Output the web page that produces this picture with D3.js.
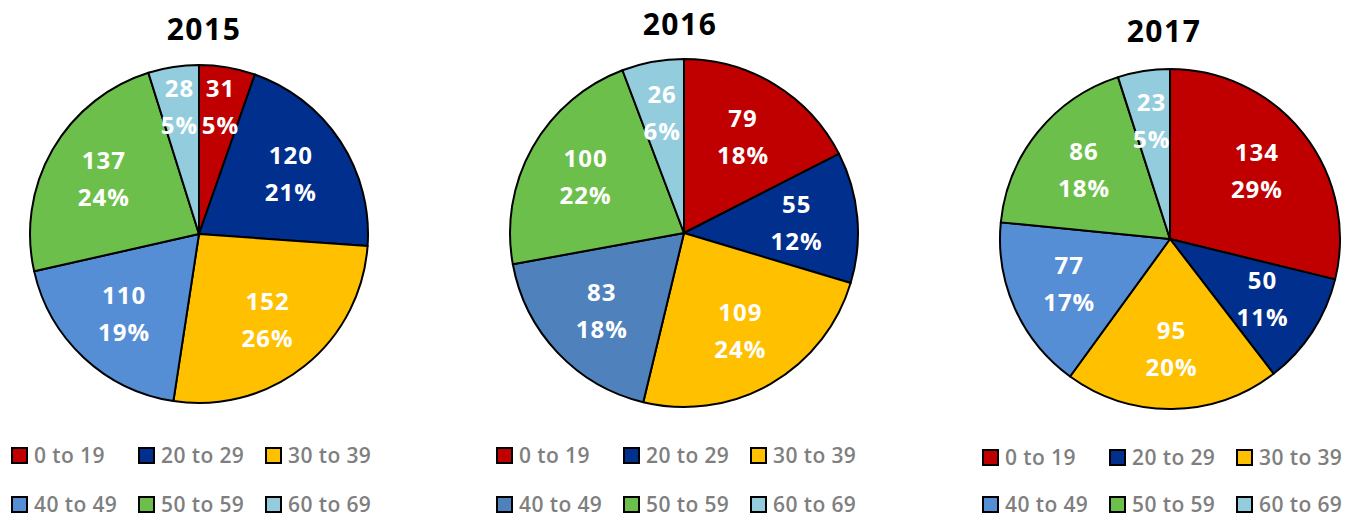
<!DOCTYPE html>
<html>
<head>
<meta charset="utf-8">
<script src="https://cdn.jsdelivr.net/npm/d3@7"></script>
<style>
  body { margin: 0; background: #fff; }
  svg { display: block; }
</style>
</head>
<body>
<div id="wrapper"></div>
<script>
// data
const years = ["2015", "2016", "2017"]
const categories = ["0 to 19", "20 to 29", "30 to 39", "40 to 49", "50 to 59", "60 to 69"]
const values2015 = [31, 120, 152, 110, 137, 28]
const values2016 = [79, 55, 109, 83, 100, 26]
const values2017 = [134, 50, 95, 77, 86, 23]
// percentage labels as printed on the chart
const pct2015 = ["5%", "21%", "26%", "19%", "24%", "5%"]
const pct2016 = ["18%", "12%", "24%", "18%", "22%", "6%"]
const pct2017 = ["29%", "11%", "20%", "17%", "18%", "5%"]
const colors2015 = ["#c00000", "#002f8e", "#ffc000", "#558ed5", "#6dbf4b", "#93cddd"]
const colors2016 = ["#c00000", "#002f8e", "#ffc000", "#4f81bd", "#6dbf4b", "#93cddd"]
const colors2017 = ["#c00000", "#002f8e", "#ffc000", "#558ed5", "#6dbf4b", "#93cddd"]

const seriesValues = [values2015, values2016, values2017]
const seriesPct = [pct2015, pct2016, pct2017]
const seriesColors = [colors2015, colors2016, colors2017]

function drawPies() {

  let dimensions = {
    width: 1364,
    height: 519,
  }

  // layout per pie: center, radius, title and legend placement
  const layouts = [
    { cx: 199, cy: 234, r: 169, titleX: 204, titleY: 40, legendY: 456, rowHeight: 49, smallK: 0.76 },
    { cx: 684, cy: 233, r: 174, titleX: 680, titleY: 35, legendY: 456, rowHeight: 49, smallK: 0.7 },
    { cx: 1170, cy: 239, r: 170, titleX: 1164, titleY: 42, legendY: 458, rowHeight: 47, smallK: 0.7 },
  ]

  const wrapper = d3.select("#wrapper")
    .append("svg")
      .attr("width", dimensions.width)
      .attr("height", dimensions.height)

  const pie = d3.pie()
    .sort(null)
    .value(d => d.value)

  years.forEach((year, i) => {
    const lay = layouts[i]
    const values = seriesValues[i]
    const pcts = seriesPct[i]
    const colors = seriesColors[i]
    const total = d3.sum(values)
    const data = categories.map((c, j) => ({ category: c, value: values[j], pct: pcts[j] }))

    const color = d3.scaleOrdinal()
      .domain(categories)
      .range(colors)

    const bounds = wrapper.append("g")
      .attr("transform", `translate(${lay.cx}, ${lay.cy})`)

    const arc = d3.arc()
      .innerRadius(0)
      .outerRadius(lay.r)

    const arcs = pie(data)

    bounds.selectAll("path")
      .data(arcs)
      .join("path")
        .attr("d", arc)
        .attr("fill", d => color(d.data.category))
        .attr("stroke", "#000")
        .attr("stroke-width", 2)
        .attr("stroke-linejoin", "round")

    // labels: small slices pushed out a bit, like Excel's best fit
    const labels = bounds.selectAll("g.label")
      .data(arcs)
      .join("g")
        .attr("class", "label")
        .attr("transform", d => {
          const share = d.data.value / total
          const k = share < 0.065 ? lay.smallK : 0.65
          const a = (d.startAngle + d.endAngle) / 2
          return `translate(${Math.sin(a) * lay.r * k}, ${-Math.cos(a) * lay.r * k})`
        })

    labels.append("text")
      .attr("y", -10)
      .attr("text-anchor", "middle")
      .attr("font-family", "'Open Sans', sans-serif")
      .attr("font-weight", 700)
      .attr("letter-spacing", 1)
      .style("font-size", "24px")
      .attr("fill", "#fff")
      .text(d => d.data.value)

    labels.append("text")
      .attr("y", 27)
      .attr("text-anchor", "middle")
      .attr("font-family", "'Open Sans', sans-serif")
      .attr("font-weight", 700)
      .attr("letter-spacing", 1)
      .style("font-size", "24px")
      .attr("fill", "#fff")
      .text(d => d.data.pct)

    // title
    wrapper.append("text")
      .attr("x", lay.titleX)
      .attr("y", lay.titleY)
      .attr("text-anchor", "middle")
      .attr("font-family", "'Open Sans', sans-serif")
      .attr("font-weight", 700)
      .attr("letter-spacing", 1.5)
      .style("font-size", "30px")
      .attr("fill", "#000")
      .text(year)

    // legend, 3 columns x 2 rows
    const legendLeft = lay.cx - 187
    const colWidth = 127

    const items = wrapper.append("g")
      .selectAll("g")
      .data(categories)
      .join("g")
        .attr("transform", (d, j) => `translate(${legendLeft + (j % 3) * colWidth}, ${lay.legendY + Math.floor(j / 3) * lay.rowHeight})`)

    items.append("rect")
      .attr("x", 0)
      .attr("y", -8)
      .attr("width", 15)
      .attr("height", 15)
      .attr("fill", d => color(d))
      .attr("stroke", "#000")
      .attr("stroke-width", 2)

    items.append("text")
      .attr("x", 22)
      .attr("y", 0)
      .attr("dy", "0.35em")
      .attr("font-family", "'Open Sans', sans-serif")
      .attr("font-weight", 600)
      .attr("letter-spacing", 0.4)
      .style("font-size", "21px")
      .attr("fill", "#7f7f7f")
      .text(d => d)
  })
}

drawPies()
</script>
</body>
</html>
